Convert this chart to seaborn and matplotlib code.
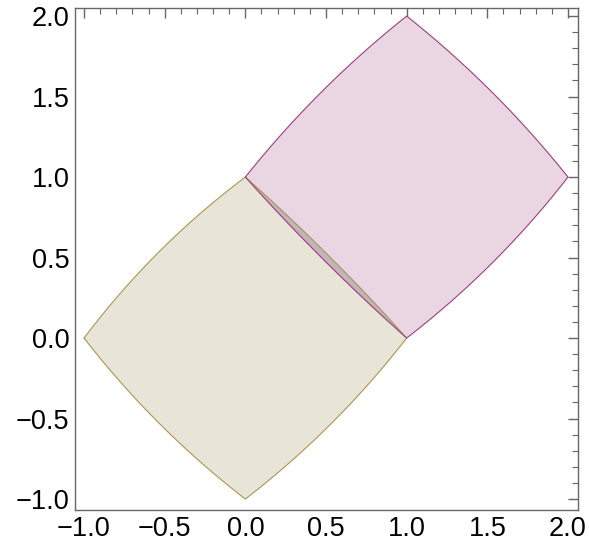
import numpy as np
import seaborn as sns
import matplotlib.pyplot as plt

# Corners of the two curved squares (counter-clockwise, starting at the left corner)
lower_corners_x = [-1.0, 0.0, 1.0, 0.0]
lower_corners_y = [0.0, -1.0, 0.0, 1.0]
upper_corners_x = [0.0, 1.0, 2.0, 1.0]
upper_corners_y = [1.0, 0.0, 1.0, 2.0]
# outward bulge of each edge (perpendicular, data units), same order as corners
lower_bulge = [0.045, 0.045, 0.02, 0.05]
upper_bulge = [0.02, 0.045, 0.04, 0.04]

lower_fill = "#e8e5d8"
lower_edge = "#a8984e"
upper_fill = "#e9d6e2"
upper_edge = "#9c3f7c"
lens_fill = "#c4b2bc"


def edge_points(a, b, h, n=80):
    # parabolic arc from a to b bulging outward (right-hand side of a->b for ccw order)
    a, b = np.array(a), np.array(b)
    s = np.linspace(0, 1, n)
    d = b - a
    normal = np.array([d[1], -d[0]]) / np.hypot(*d)
    pts = a[None, :] + s[:, None] * d[None, :] + (4 * h * s * (1 - s))[:, None] * normal[None, :]
    return pts


def shape(xs, ys, bulges):
    pts = []
    for i in range(4):
        a = (xs[i], ys[i])
        b = (xs[(i + 1) % 4], ys[(i + 1) % 4])
        pts.append(edge_points(a, b, bulges[i]))
    return np.vstack(pts), pts


sns.set_style("white")
plt.rcParams['font.family'] = ['Liberation Sans', 'DejaVu Sans']

fig = plt.figure(figsize=(5.89, 5.45), dpi=100)
ax = fig.add_axes([0.1273, 0.0642, 0.9813 - 0.1273, 0.9853 - 0.0642])

low, low_edges = shape(lower_corners_x, lower_corners_y, lower_bulge)
up, up_edges = shape(upper_corners_x, upper_corners_y, upper_bulge)

ax.fill(low[:, 0], low[:, 1], color=lower_fill, lw=0, zorder=1)
ax.fill(up[:, 0], up[:, 1], color=upper_fill, lw=0, zorder=1)

# overlap lens: inner edge of lower (edge 2) and inner edge of upper (edge 0)
lens = np.vstack([low_edges[2], up_edges[0]])
ax.fill(lens[:, 0], lens[:, 1], color=lens_fill, lw=0, zorder=2)

low_closed = np.vstack([low, low[:1]])
up_closed = np.vstack([up, up[:1]])
sns.lineplot(x=low_closed[:, 0], y=low_closed[:, 1], sort=False, color=lower_edge,
             lw=0.8, ax=ax, zorder=3, estimator=None)
sns.lineplot(x=up_closed[:, 0], y=up_closed[:, 1], sort=False, color=upper_edge,
             lw=0.8, ax=ax, zorder=3, estimator=None)

ax.set_xlim(-1.056, 2.062)
ax.set_ylim(-1.068, 2.05)

ticks = np.arange(-1.0, 2.01, 0.5)
ax.set_xticks(ticks)
ax.set_yticks(ticks)
ax.set_xticks(np.arange(-1.0, 2.01, 0.1), minor=True)
ax.set_yticks(np.arange(-1.0, 2.01, 0.1), minor=True)
labels = [f"{t:.1f}".replace("-", "\u2212") for t in ticks]
ax.set_xticklabels(labels)
ax.set_yticklabels(labels)

ax.tick_params(which='both', direction='in', top=True, right=True, colors='#666666',
               labelcolor='black', labelsize=19.5)
ax.tick_params(which='major', length=7, width=1.0, pad=4)
ax.tick_params(which='minor', length=4, width=0.8)
for sp in ax.spines.values():
    sp.set_color('#666666')
    sp.set_linewidth(1.0)

fig.savefig("out.png", dpi=100)
